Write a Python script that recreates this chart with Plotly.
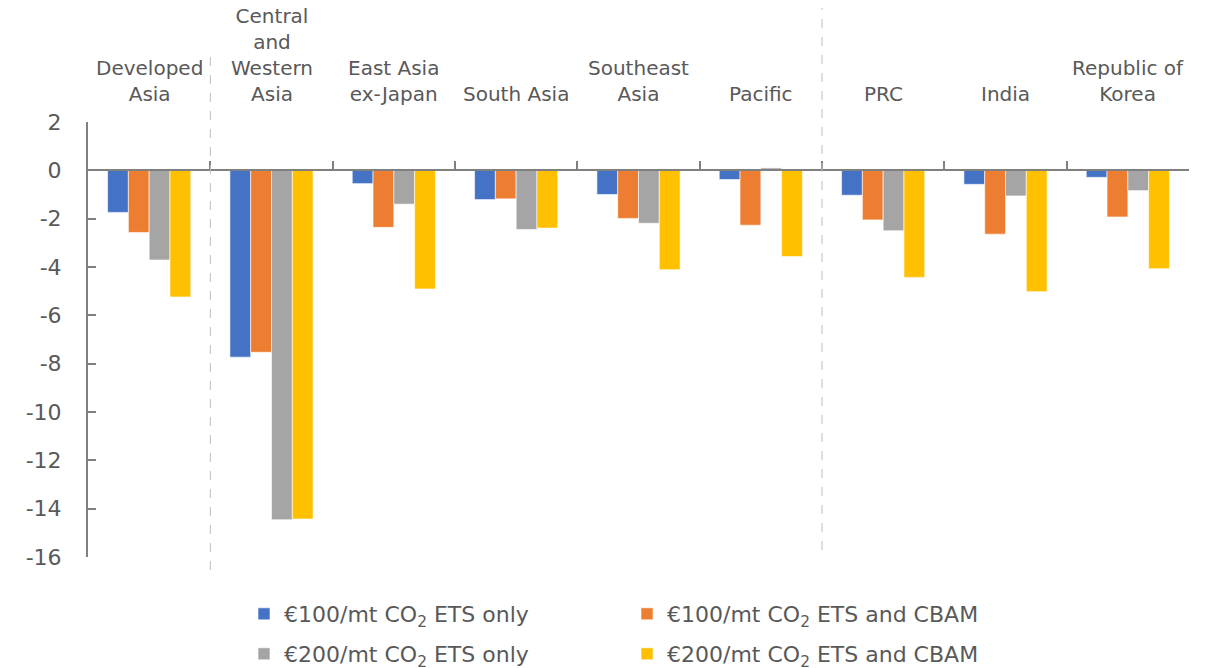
import plotly.graph_objects as go

regions = ["Developed<br>Asia", "Central<br>and<br>Western<br>Asia", "East Asia<br>ex-Japan",
           "South Asia", "Southeast<br>Asia", "Pacific", "PRC", "India", "Republic of<br>Korea"]

ets100 = [-1.74, -7.73, -0.55, -1.21, -1.00, -0.38, -1.03, -0.58, -0.29]
cbam100 = [-2.57, -7.53, -2.36, -1.18, -1.99, -2.27, -2.05, -2.64, -1.93]
ets200 = [-3.71, -14.46, -1.40, -2.45, -2.19, 0.10, -2.50, -1.06, -0.84]
cbam200 = [-5.24, -14.43, -4.91, -2.39, -4.11, -3.57, -4.43, -5.02, -4.07]

y_ticks = [2, 0, -2, -4, -6, -8, -10, -12, -14, -16]

names = ["€100/mt CO<sub>2</sub> ETS only", "€100/mt CO<sub>2</sub> ETS and CBAM",
         "€200/mt CO<sub>2</sub> ETS only", "€200/mt CO<sub>2</sub> ETS and CBAM"]
colors = ["#4472C4", "#ED7D31", "#A5A5A5", "#FFC000"]
legend_rows = ["legend", "legend", "legend2", "legend2"]

FONT = "DejaVu Sans"
GREY = "#595959"
W, H = 1202, 660  # page body adds an 8px margin

fig = go.Figure()
for name, vals, col, lg in zip(names, [ets100, cbam100, ets200, cbam200], colors, legend_rows):
    fig.add_trace(go.Bar(x=regions, y=vals, name=name, legend=lg,
                         marker=dict(color=col, line=dict(color="rgba(255,255,255,0.6)", width=1))))

leg_style = dict(orientation="h", x=0.1417, xanchor="left", yref="container", yanchor="middle",
                 entrywidth=338, entrywidthmode="pixels", font=dict(size=22, color=GREY),
                 itemwidth=30, traceorder="normal", bgcolor="rgba(0,0,0,0)")

fig.update_layout(
    width=W, height=H,
    margin=dict(l=80, r=21, t=114, b=111, autoexpand=False),
    plot_bgcolor="white", paper_bgcolor="white",
    barmode="group", bargap=0.32, bargroupgap=0,
    font=dict(family=FONT, size=20, color=GREY),
    showlegend=True,
    legend=dict(y=(H - 606) / H, **leg_style),
    legend2=dict(y=(H - 646) / H, **leg_style),
)

fig.update_xaxes(
    type="category", showgrid=False, zeroline=False,
    showline=True, linecolor="#808080", linewidth=2,
    ticks="inside", tickson="boundaries", ticklen=8, tickcolor="#808080", tickwidth=2,
    showticklabels=False, anchor="free", position=16 / 18, automargin=False,
)
fig.update_yaxes(
    range=[-16, 2], showgrid=False, zeroline=False, automargin=False,
    showline=True, linecolor="#808080", linewidth=2,
    tickmode="array", tickvals=y_ticks, ticktext=[str(v) for v in y_ticks],
    ticks="inside", ticklen=8, tickcolor="#808080", tickwidth=2,
    tickfont=dict(size=22, color=GREY), ticklabelstandoff=20,
)

# region labels above the plot
for r in regions:
    fig.add_annotation(x=r, y=1, xref="x", yref="paper", text=r, showarrow=False,
                       yanchor="bottom", yshift=14, font=dict(size=20, color=GREY))

# group separators
fig.add_shape(type="line", x0=0.5, x1=0.5, xref="x", yref="paper", y0=-0.03, y1=1.154,
              line=dict(color="#BFBFBF", width=1, dash="dash"))
fig.add_shape(type="line", x0=5.5, x1=5.5, xref="x", yref="paper", y0=0.016, y1=1.27,
              line=dict(color="#BFBFBF", width=1, dash="dash"))

fig.write_html("out.html")
